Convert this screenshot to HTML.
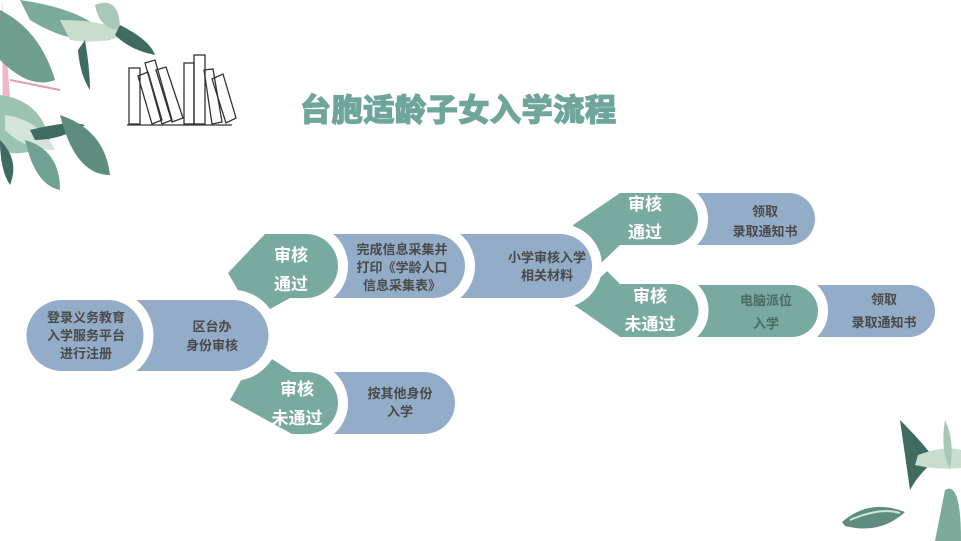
<!DOCTYPE html>
<html><head><meta charset="utf-8"><style>
html,body{margin:0;padding:0;background:#fff;}
svg{display:block}
text{font-family:"Liberation Sans","Noto Sans CJK SC",sans-serif;font-weight:bold;}
</style></head><body>
<svg width="961" height="541" viewBox="0 0 961 541" xmlns="http://www.w3.org/2000/svg">
<defs>
<path id="J" d="M792 285 H909 A26 26 0 0 1 909 337 H792 Z"/>
<path id="I" d="M672 285 H792 A26 26 0 0 1 792 337 H672 Z"/>
<path id="G" d="M672 193 H789 A26 26 0 0 1 789 245 H672 Z"/>
<path id="H" d="M598 262 L620 284 H672 A26 26 0 0 1 672 337 H620 L574 305 Z"/>
<path id="F" d="M620 193 H672 A26 26 0 0 1 672 245 H620 L598 266 L573 225 Z"/>
<path id="E" d="M433 234 H560 A32 32 0 0 1 560 298 H433 Z"/>
<path id="L" d="M306 372 H424 A31 31 0 0 1 424 434 H306 Z"/>
<path id="D" d="M306 234 H433 A32 32 0 0 1 433 298 H306 Z"/>
<path id="K" d="M258 350 L292 372 H307 A31 31 0 0 1 307 434 H292 L230 400 Z"/>
<path id="C" d="M265 234 H306 A32 32 0 0 1 306 298 H290 L254 318 L228 273 Z"/>
<path id="B" d="M108 300 H233 A35 35 0 0 1 233 371 H108 Z"/>
<path id="A" d="M62 300 H108 A35 35 0 0 1 108 371 H62 A35 35 0 0 1 62 300 Z"/>
</defs>
<!-- top-left leaves -->
<g>
<path d="M2 0 L10 95 L3 140 Z" fill="#e89ab0" opacity="0.7"/>
<path d="M0 10 Q40 30 55 80 Q30 90 0 60 Z" fill="#6d9e8e"/>
<path d="M20 0 Q90 10 110 40 Q70 45 30 20 Z" fill="#7aab9b"/>
<path d="M60 20 Q110 20 125 35 Q100 45 70 40 Z" fill="#c8ddd0"/>
<path d="M95 5 Q120 -5 120 30 Q100 30 95 5Z" fill="#a9c9b8"/>
<path d="M120 25 Q150 40 155 55 Q130 50 115 35Z" fill="#3f6b60"/>
<path d="M85 40 Q90 70 90 90 Q80 75 78 50Z" fill="#3f6b60"/>
<path d="M0 95 Q40 100 50 140 Q25 160 0 150Z" fill="#9cc2b1"/>
<path d="M5 115 Q40 120 55 150 Q25 150 5 130Z" fill="#d3e5da"/>
<path d="M30 130 Q70 120 85 125 Q60 140 35 140Z" fill="#3f6b60"/>
<path d="M60 115 Q105 130 110 175 Q75 175 60 115Z" fill="#5e8c7e"/>
<path d="M25 140 Q60 150 60 190 Q35 185 25 140Z" fill="#6fa293"/>
<path d="M0 140 Q20 160 10 185 Q0 170 0 140Z" fill="#3f6b60"/>
<path d="M10 80 L60 90" stroke="#e89ab0" stroke-width="2"/>
</g>
<!-- books -->
<g stroke="#333" stroke-width="1.3" fill="none">
<line x1="127" y1="125" x2="232" y2="125"/>
<rect x="129" y="68" width="11" height="56"/>
<path d="M138 76 L148 72 L162 120 L152 124Z"/>
<path d="M145 63 L155 60 L172 120 L162 124Z"/>
<path d="M156 70 L166 67 L183 118 L172 122Z"/>
<rect x="184" y="63" width="10" height="61"/>
<rect x="194" y="55" width="11" height="69"/>
<path d="M204 70 L213 69 L222 122 L212 124Z"/>
<path d="M212 79 L223 74 L236 118 L226 123Z"/>
</g>
<!-- title -->
<text x="300" y="121" font-size="31" fill="#6fa59b" stroke="#6fa59b" stroke-width="1.6" textLength="316">台胞适龄子女入学流程</text>
<!-- bottom-right leaves -->
<g>
<path d="M900 420 Q925 445 935 460 Q918 475 910 490 Q905 455 900 420Z" fill="#3f6b60"/>
<path d="M918 455 Q945 445 961 450 L961 468 Q935 470 915 465Z" fill="#c8ddd0"/>
<path d="M945 420 Q955 440 950 470 Q940 450 945 420Z" fill="#a9c9b8"/>
<path d="M945 490 Q961 480 961 541 L935 541Z" fill="#7aab9b"/>
<path d="M842 522 Q870 498 905 512 Q880 535 845 526Z" fill="#5e8c7e"/>
<path d="M850 520 Q880 507 900 513" stroke="#d3e5da" stroke-width="2" fill="none"/>
</g>
<!-- flow shapes: white halo then fill, right to left -->
<g stroke-width="20">
<use href="#J" fill="#fff" stroke="#fff"/><use href="#J" fill="#93acc8"/>
<use href="#I" fill="#fff" stroke="#fff"/><use href="#I" fill="#79aaa0"/>
<use href="#G" fill="#fff" stroke="#fff"/><use href="#G" fill="#93acc8"/>
<use href="#H" fill="#fff" stroke="#fff"/><use href="#H" fill="#79aaa0"/>
<use href="#F" fill="#fff" stroke="#fff"/><use href="#F" fill="#79aaa0"/>
<use href="#E" fill="#fff" stroke="#fff"/><use href="#E" fill="#93acc8"/>
<use href="#L" fill="#fff" stroke="#fff"/><use href="#L" fill="#93acc8"/>
<use href="#D" fill="#fff" stroke="#fff"/><use href="#D" fill="#93acc8"/>
<use href="#K" fill="#fff" stroke="#fff"/><use href="#K" fill="#79aaa0"/>
<use href="#C" fill="#fff" stroke="#fff"/><use href="#C" fill="#79aaa0"/>
<use href="#B" fill="#fff" stroke="#fff"/><use href="#B" fill="#93acc8"/>
<use href="#A" fill="#fff" stroke="#fff"/><use href="#A" fill="#93acc8"/>
</g>
<!-- labels -->
<g font-size="13" fill="#4a4a4a" text-anchor="middle">
<text x="86" y="322">登录义务教育</text>
<text x="86" y="340">入学服务平台</text>
<text x="86" y="358">进行注册</text>
<text x="212" y="331">区台办</text>
<text x="212" y="350">身份审核</text>
<text x="402" y="254">完成信息采集并</text>
<text x="402" y="272">打印《学龄人口</text>
<text x="402" y="290">信息采集表》</text>
<text x="547" y="262">小学审核入学</text>
<text x="547" y="280">相关材料</text>
<text x="765" y="216">领取</text>
<text x="765" y="236">录取通知书</text>
<text x="400" y="398">按其他身份</text>
<text x="400" y="416">入学</text>
<text x="884" y="304">领取</text>
<text x="884" y="327">录取通知书</text>
</g>
<g font-size="17" fill="#fff" text-anchor="middle" font-weight="normal">
<text x="291" y="261">审核</text>
<text x="291" y="290">通过</text>
<text x="297" y="395">审核</text>
<text x="297" y="424">未通过</text>
<text x="645" y="210">审核</text>
<text x="645" y="238">通过</text>
<text x="650" y="302">审核</text>
<text x="650" y="330">未通过</text>
</g>
<g font-size="13" fill="#4a6a64" text-anchor="middle">
<text x="766" y="305">电脑派位</text>
<text x="766" y="328">入学</text>
</g>
</svg>
</body></html>
